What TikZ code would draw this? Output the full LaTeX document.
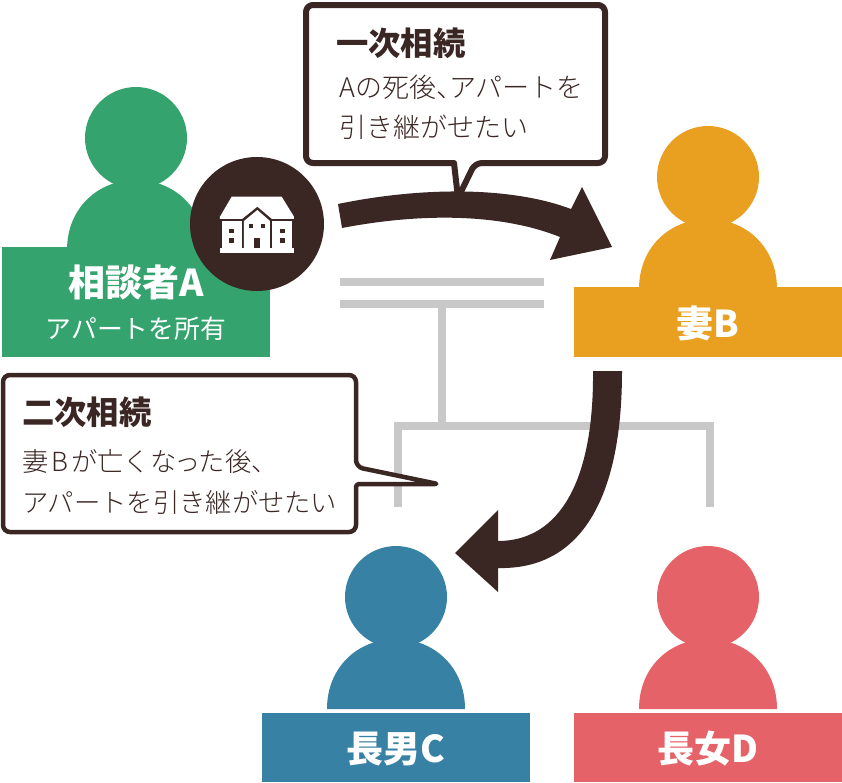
\documentclass[tikz,border=0pt]{standalone}
\usepackage{fontspec}
\setmainfont{Noto Sans CJK JP}[BoldFont={Noto Sans CJK JP Black}]
\newfontfamily\lightjp{Noto Sans CJK JP Light}
\definecolor{ink}{HTML}{3A2623}
\definecolor{rule}{HTML}{C8C8C8}
\definecolor{greenp}{HTML}{34A36E}
\definecolor{orangep}{HTML}{E99F1F}
\definecolor{bluep}{HTML}{3781A5}
\definecolor{redp}{HTML}{E46268}
\tikzset{
  x=1pt,y=-1pt,
  namelabel/.style={text=white,font=\bfseries\fontsize{37}{37}\selectfont,inner sep=0pt,anchor=center},
  sublabel/.style={text=white,font=\fontsize{25.8}{26}\selectfont,inner sep=0pt,anchor=center},
  headline/.style={text=ink,font=\bfseries\fontsize{32.3}{33}\selectfont,inner sep=0pt,anchor=west},
  bodyline/.style={text=ink,font=\lightjp\fontsize{27}{27}\selectfont,inner sep=0pt,anchor=west},
  bodysmall/.style={text=ink,font=\lightjp\fontsize{26.3}{27}\selectfont,inner sep=0pt,anchor=west},
  railbar/.style={draw=rule,line width=8pt},
}
% a person: head, shoulders and the name plate below them
\newcommand{\personfig}[6]{% colour, head x, head y, plate left, plate top, plate bottom
  \fill[#1] (#2,#3) circle[radius=51];
  \fill[#1] (#2-69,#3+112) .. controls (#2-69,#3+70) and (#2-38,#3+42) .. (#2,#3+42)
     .. controls (#2+38,#3+42) and (#2+69,#3+70) .. (#2+69,#3+112) -- cycle;
  \fill[#1] (#4,#5) rectangle (#4+268,#6);
}
\begin{document}
\begin{tikzpicture}
\useasboundingbox (0,0) rectangle (842,782);

% family tree rails
\draw[railbar] (340,282) -- (544,282);
\draw[railbar] (340,304) -- (544,304);
\draw[railbar] (442,304) -- (442,426);
\draw[railbar] (398,507) -- (398,426) -- (710,426) -- (710,507);

% people
\personfig{greenp}{136}{138}{2}{247}{357}
\personfig{orangep}{708}{177}{574}{287}{357}
\personfig{bluep}{396}{597}{262}{713}{782}
\personfig{redp}{708}{597}{574}{713}{782}

% inheritance arrows
\fill[ink] (338,204) .. controls (420,187) and (510,186) .. (571,209)
  -- (582,187) -- (612,247) -- (550,260) -- (560,237)
  .. controls (500,213) and (420,213) .. (342,228) -- cycle;
\fill[ink] (622,371) .. controls (622,500) and (580,570) .. (498,568)
  -- (498,592) -- (455,553) -- (498,510) -- (498,541)
  .. controls (560,541) and (594,480) .. (593,371) -- cycle;

% house badge
\fill[ink] (257,224) circle[radius=67];
\begin{scope}[shift={(180,150)},x=0.3333pt,y=-0.3333pt]
  \fill[white] (155,140) -- (305,140) -- (342,200) -- (342,207) -- (276,207)
     -- (232,170) -- (186,207) -- (120,207) -- (120,200) -- cycle;
  \fill[white] (127,213) rectangle (185,294);
  \fill[white] (277,213) rectangle (335,294);
  \fill[white] (192,213) -- (232,180) -- (270,213) -- (270,294) -- (192,294) -- cycle;
  \fill[white] (120,295) rectangle (342,308);
  \fill[ink] (148,236) rectangle (163,250);
  \fill[ink] (148,265) rectangle (163,279);
  \fill[ink] (299,236) rectangle (314,250);
  \fill[ink] (299,265) rectangle (314,279);
  \fill[ink] (206,221) rectangle (220,235);
  \fill[ink] (242,221) rectangle (256,235);
  \fill[ink] (221,265) rectangle (241,295);
\end{scope}

% first speech bubble
\draw[ink,line width=6pt,fill=white,line join=round,rounded corners=7pt]
  (306,5) -- (605,5) -- (605,163) -- (475,163)
  [sharp corners] -- (458,198) -- (454,163)
  [rounded corners=7pt] -- (306,163) -- cycle;
\node[headline] (firsthead) at (336,43) {一次相続};
\node[bodyline] (firstone) at (339,87) {Aの死後、\kern-20pt\ アパートを};
\node[bodyline] (firsttwo) at (339,127) {引き継がせたい};

% second speech bubble
\draw[ink,line width=4.5pt,fill=white,line join=round,rounded corners=7pt]
  (3,375) -- (356,375) -- (356,467)
  [rounded corners=3pt] -- (438,484) -- (356,484)
  [rounded corners=7pt] -- (356,532) -- (3,532) -- cycle;
\node[headline] (secondhead) at (22,412) {二次相続};
\node[bodysmall] (secondone) at (22,462) {妻\kern3ptB\kern3ptが亡くな\kern-2ptっ\kern-2ptた後、};
\node[bodysmall] (secondtwo) at (22,502) {アパートを引き継がせたい};

% name plates
\node[namelabel] (nameA) at (136,282) {相談者A};
\node[sublabel] (ownA) at (136,329) {アパートを所有};
\node[namelabel] (nameB) at (708,323) {妻B};
\node[namelabel] (nameC) at (396,749) {長男C};
\node[namelabel] (nameD) at (708,749) {長女D};
\end{tikzpicture}
\end{document}
